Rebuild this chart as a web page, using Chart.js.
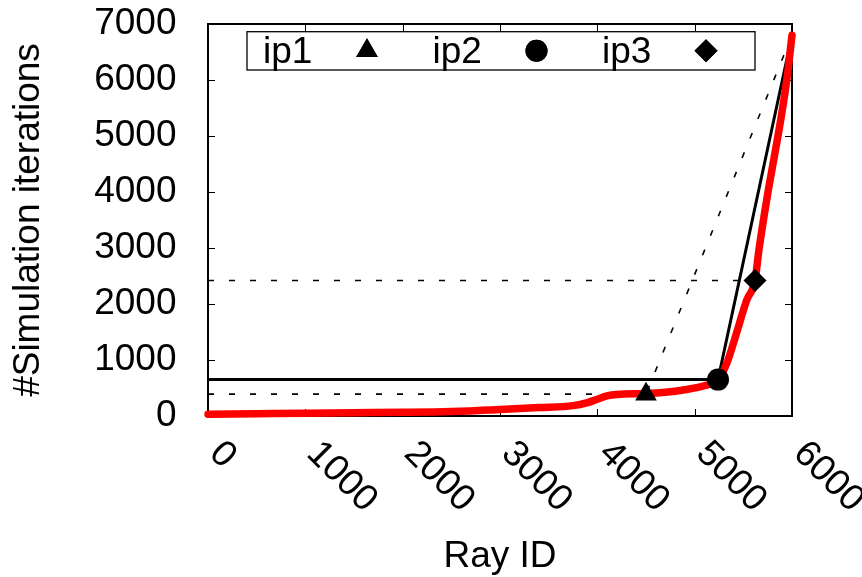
<!DOCTYPE html>
<html>
<head>
<meta charset="utf-8">
<script src="https://cdn.jsdelivr.net/npm/chart.js@4.4.1/dist/chart.umd.min.js"></script>
<style>
  html, body { margin: 0; padding: 0; background: #fff; }
  canvas { display: block; }
</style>
</head>
<body>
<canvas id="chart" width="862" height="577"></canvas>
<script>
// red curve: iterations per ray, sorted
var rayIds = [0, 250, 500, 1000, 1500, 2000, 2500, 3000, 3400, 3750, 3900, 4000, 4100, 4200,
  4500, 4700, 4900, 5100, 5240, 5330, 5430, 5535, 5620, 5660, 5740, 5820, 5890, 5950, 6000];
var iterations = [30, 35, 40, 50, 58, 65, 80, 115, 150, 185, 240, 300, 360, 385,
  400, 423, 470, 540, 650, 940, 1480, 2070, 2420, 2960, 3860, 4650, 5350, 6050, 6800];

// inflection points
var ipNames = ["ip1", "ip2", "ip3"];
var ipX = [4500, 5240, 5620];
var ipY = [390, 650, 2420];

// last point of the curve, where the guide lines meet
var endX = 6000;
var endY = 6800;

var xTicks = [0, 1000, 2000, 3000, 4000, 5000, 6000];
var yTicks = [0, 1000, 2000, 3000, 4000, 5000, 6000, 7000];

var FONT = "'Liberation Sans', Arial, Helvetica, sans-serif";
var FS = 37;
var ipStyles = ["triangle", "circle", "rectRot"];
var ipRadius = [12.5, 11, 11.5];

function pts(xs, ys) {
  return xs.map(function (x, i) { return { x: x, y: ys[i] }; });
}

var datasets = [];
for (var i = 0; i < ipNames.length; i++) {
  datasets.push({
    label: ipNames[i],
    data: [{ x: ipX[i], y: ipY[i] }],
    showLine: false,
    pointStyle: ipStyles[i],
    pointRadius: ipRadius[i],
    pointBackgroundColor: "#000",
    pointBorderColor: "#000",
    pointBorderWidth: 0,
    clip: false,
    order: 0
  });
}
datasets.push({
  label: "curve",
  data: pts(rayIds, iterations),
  borderColor: "#ff0000",
  borderWidth: 7.5,
  borderCapStyle: "round",
  borderJoinStyle: "round",
  cubicInterpolationMode: "monotone",
  pointRadius: 0,
  clip: false,
  order: 1
});
datasets.push({
  label: "ip2 guide",
  data: [{ x: 0, y: ipY[1] }, { x: ipX[1], y: ipY[1] }, { x: endX, y: endY }],
  borderColor: "#000",
  borderWidth: 3,
  pointRadius: 0,
  order: 2
});
datasets.push({
  label: "ip1 guide",
  data: [{ x: 0, y: ipY[0] }, { x: ipX[0], y: ipY[0] }, { x: endX, y: endY }],
  borderColor: "#000",
  borderWidth: 1.6,
  borderDash: [6, 15],
  pointRadius: 0,
  order: 3
});
datasets.push({
  label: "ip3 guide",
  data: [{ x: 0, y: ipY[2] }, { x: ipX[2], y: ipY[2] }],
  borderColor: "#000",
  borderWidth: 1.6,
  borderDash: [6, 15],
  pointRadius: 0,
  order: 3
});

// gnuplot style frame, inward ticks, rotated x labels and the boxed legend
var gnuFrame = {
  id: "gnuFrame",
  beforeDatasetsDraw: function (chart) {
    var ctx = chart.ctx, a = chart.chartArea;
    var xs = chart.scales.x, ys = chart.scales.y;
    ctx.save();
    ctx.strokeStyle = "#000";
    ctx.lineWidth = 1;
    ctx.beginPath();
    xTicks.forEach(function (v) {
      var px = Math.round(xs.getPixelForValue(v)) + 0.5;
      ctx.moveTo(px, a.bottom); ctx.lineTo(px, a.bottom - 7);
      ctx.moveTo(px, a.top); ctx.lineTo(px, a.top + 7);
    });
    yTicks.forEach(function (v) {
      var py = Math.round(ys.getPixelForValue(v)) + 0.5;
      ctx.moveTo(a.left, py); ctx.lineTo(a.left + 7, py);
      ctx.moveTo(a.right, py); ctx.lineTo(a.right - 7, py);
    });
    ctx.stroke();
    ctx.lineWidth = 2;
    ctx.strokeRect(a.left, a.top, a.right - a.left, a.bottom - a.top);

    // x tick labels, turned 45 degrees clockwise
    ctx.fillStyle = "#000";
    ctx.font = FS + "px " + FONT;
    ctx.textAlign = "left";
    ctx.textBaseline = "alphabetic";
    xTicks.forEach(function (v) {
      ctx.save();
      ctx.translate(xs.getPixelForValue(v), a.bottom + 39);
      ctx.rotate(Math.PI / 4);
      ctx.fillText(String(v), 0, 0);
      ctx.restore();
    });

    // x axis title
    ctx.textAlign = "center";
    ctx.fillText("Ray ID", (a.left + a.right) / 2, 567);
    ctx.restore();
  },
  afterDatasetsDraw: function (chart) {
    var ctx = chart.ctx, a = chart.chartArea;
    var left = a.left + 39, top = a.top + 7.7, right = a.right - 37, bottom = a.top + 46;
    ctx.save();
    ctx.fillStyle = "#fff";
    ctx.fillRect(left, top, right - left, bottom - top);
    ctx.strokeStyle = "#000";
    ctx.lineWidth = 1.3;
    ctx.strokeRect(left, top, right - left, bottom - top);
    ctx.fillStyle = "#000";
    ctx.font = FS + "px " + FONT;
    ctx.textAlign = "left";
    ctx.textBaseline = "alphabetic";
    var cy = a.top + 26.8;
    for (var i = 0; i < ipNames.length; i++) {
      var tx = left + 16 + i * 169.5;
      ctx.fillText(ipNames[i], tx, a.top + 39.3);
      Chart.helpers.drawPoint(ctx, {
        pointStyle: ipStyles[i],
        radius: ipRadius[i],
        borderWidth: 0,
        rotation: 0
      }, tx + 104, cy);
      ctx.fill();
    }
    ctx.restore();
  }
};

var chart = new Chart(document.getElementById("chart").getContext("2d"), {
  type: "line",
  data: { datasets: datasets },
  options: {
    responsive: false,
    animation: false,
    layout: { padding: { top: 24, right: 70, bottom: 0, left: 0 } },
    plugins: {
      legend: { display: false },
      tooltip: { enabled: false }
    },
    scales: {
      x: {
        type: "linear",
        min: 0,
        max: 6000,
        ticks: { display: false, stepSize: 1000 },
        grid: { display: false },
        border: { display: false },
        afterFit: function (s) {
          s.height = 161;
          s.paddingLeft = 0;
          s.paddingRight = 0;
        }
      },
      y: {
        type: "linear",
        min: 0,
        max: 7000,
        ticks: {
          stepSize: 1000,
          padding: 23.5,
          color: "#000",
          font: { family: FONT, size: FS },
          callback: function (v) { return String(v); }
        },
        grid: { display: false },
        border: { display: false },
        title: {
          display: true,
          text: "#Simulation iterations",
          color: "#000",
          font: { family: FONT, size: FS },
          padding: { top: 7, bottom: 0 }
        },
        afterFit: function (s) {
          s.width = 208;
          s.paddingTop = 0;
          s.paddingBottom = 0;
        }
      }
    }
  },
  plugins: [gnuFrame]
});
</script>
</body>
</html>
